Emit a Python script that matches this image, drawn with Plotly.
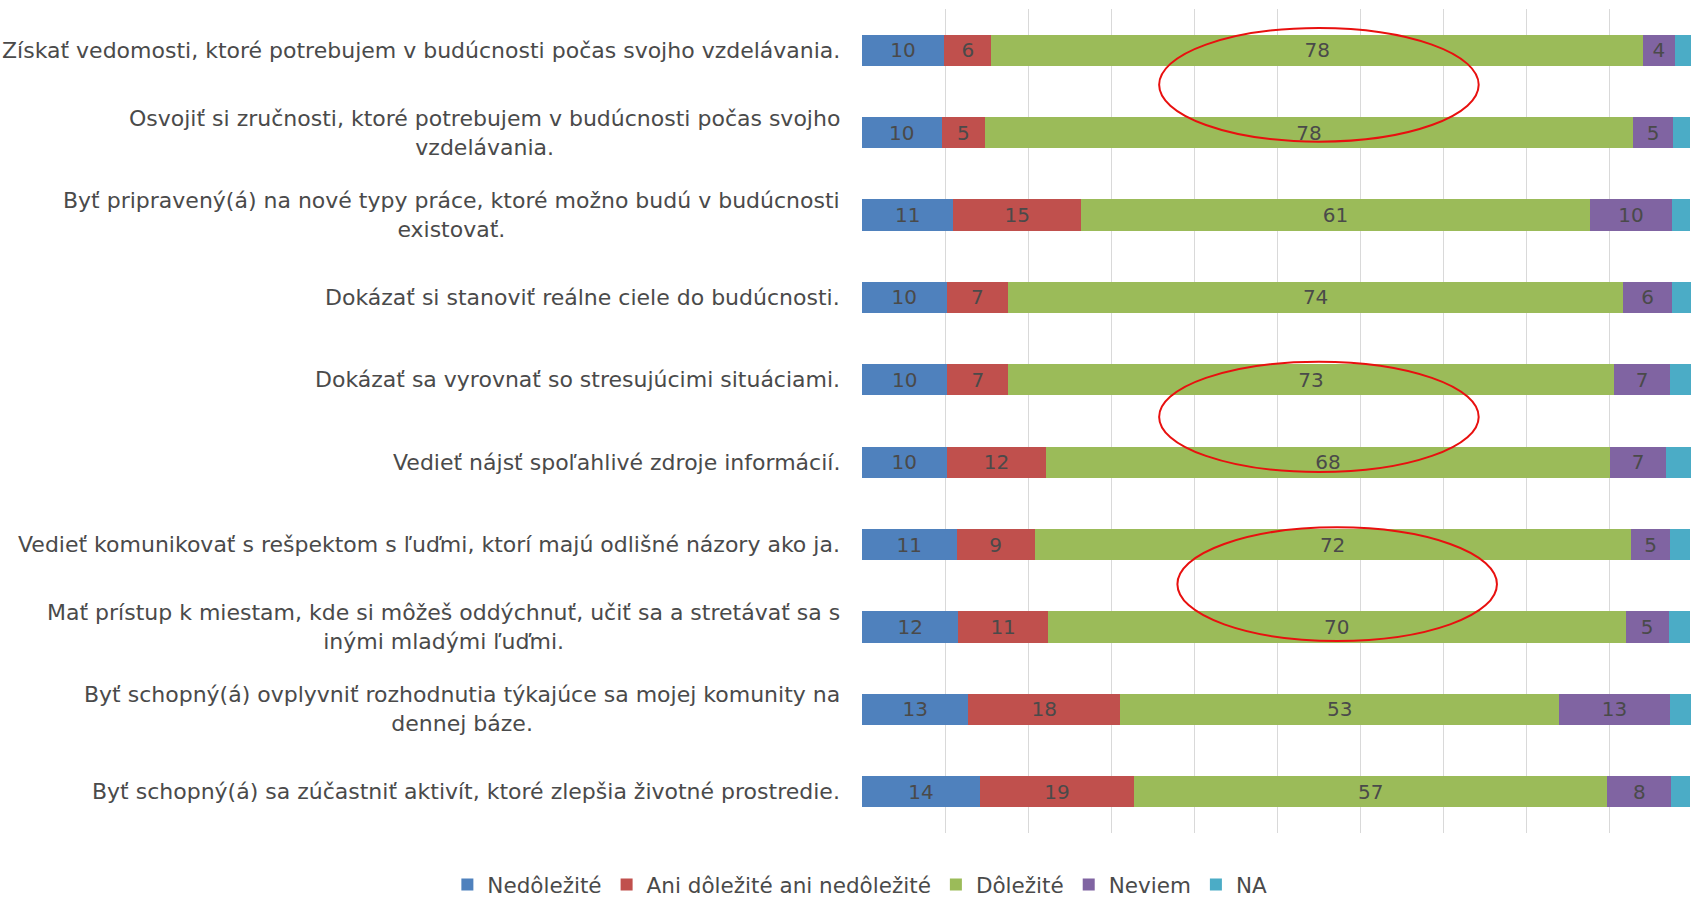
import plotly.graph_objects as go

# Survey items (top to bottom)
categories = [
    "Získať vedomosti, ktoré potrebujem v budúcnosti počas svojho vzdelávania.",
    "Osvojiť si zručnosti, ktoré potrebujem v budúcnosti počas svojho<br>vzdelávania.",
    "Byť pripravený(á) na nové typy práce, ktoré možno budú v budúcnosti<br>existovať.",
    "Dokázať si stanoviť reálne ciele do budúcnosti.",
    "Dokázať sa vyrovnať so stresujúcimi situáciami.",
    "Vedieť nájsť spoľahlivé zdroje informácií.",
    "Vedieť komunikovať s rešpektom s ľuďmi, ktorí majú odlišné názory ako ja.",
    "Mať prístup k miestam, kde si môžeš oddýchnuť, učiť sa a stretávať sa s<br>inými mladými ľuďmi.",
    "Byť schopný(á) ovplyvniť rozhodnutia týkajúce sa mojej komunity na<br>dennej báze.",
    "Byť schopný(á) sa zúčastniť aktivít, ktoré zlepšia životné prostredie.",
]

nedolezite = [9.9, 9.6, 11.0, 10.2, 10.3, 10.2, 11.4, 11.6, 12.8, 14.2]
ani = [5.7, 5.2, 15.4, 7.4, 7.3, 12.0, 9.4, 10.8, 18.3, 18.6]
dolezite = [78.5, 78.1, 61.3, 74.1, 73.0, 67.9, 71.8, 69.6, 52.9, 57.0]
neviem = [3.8, 4.8, 9.9, 5.9, 6.8, 6.8, 4.8, 5.2, 13.3, 7.7]
na = [2.0, 2.1, 2.1, 2.3, 2.5, 3.0, 2.3, 2.6, 2.6, 2.3]

series = [
    ("Nedôležité", nedolezite, "#4F81BD", True),
    ("Ani dôležité ani nedôležité", ani, "#C0504D", True),
    ("Dôležité", dolezite, "#9BBB59", True),
    ("Neviem", neviem, "#8064A2", True),
    ("NA", na, "#4BACC6", False),
]

idx = list(range(len(categories)))
FONT = "DejaVu Sans"
TXT = "#4a4a4a"

fig = go.Figure()
for name, vals, color, labelled in series:
    fig.add_trace(go.Bar(
        name=name, x=vals, y=idx, orientation="h",
        marker=dict(color=color, line=dict(width=0)),
        text=[f"{round(v)}" for v in vals] if labelled else None,
        textposition="inside", insidetextanchor="middle",
        textfont=dict(family=FONT, size=20, color=TXT),
        hoverinfo="x+name",
    ))

# category labels as annotations (centered multi-line, right edge near axis)
for i, c in enumerate(categories):
    fig.add_annotation(
        x=0, xref="paper", y=i, yref="y", text=c, showarrow=False,
        xanchor="right", xshift=-20, align="center",
        font=dict(family=FONT, size=22, color=TXT),
    )

# red highlight ellipses
for x0, x1, y0, y1 in [(35.8, 74.3, -0.27, 1.11), (35.8, 74.3, 3.78, 5.12), (38.0, 76.5, 5.79, 7.17)]:
    fig.add_shape(type="circle", xref="x", yref="y", x0=x0, x1=x1, y0=y0, y1=y1,
                  line=dict(color="#E8100F", width=2))

fig.update_layout(
    barmode="stack", bargap=0.62,
    width=1696, height=898,
    margin=dict(l=862, r=4, t=9, b=65, autoexpand=False),
    plot_bgcolor="white", paper_bgcolor="white",
    font=dict(family=FONT, size=20, color=TXT),
    showlegend=True,
    legend=dict(orientation="h", xref="container", yref="container",
                x=0.507, xanchor="center", y=0.015, yanchor="middle",
                font=dict(family=FONT, size=21.5, color=TXT),
                itemwidth=30, traceorder="normal"),
)
fig.update_xaxes(range=[0, 100], dtick=10, showgrid=True, gridcolor="#D9D9D9",
                 gridwidth=1, showticklabels=False, zeroline=False, showline=False)
fig.update_yaxes(autorange="reversed", showticklabels=False, showgrid=False,
                 zeroline=False)

# remove the default page margin so the figure fills the window
fig.write_html("out.html", config={"displayModeBar": False},
               post_script="document.body.style.margin='0';")
